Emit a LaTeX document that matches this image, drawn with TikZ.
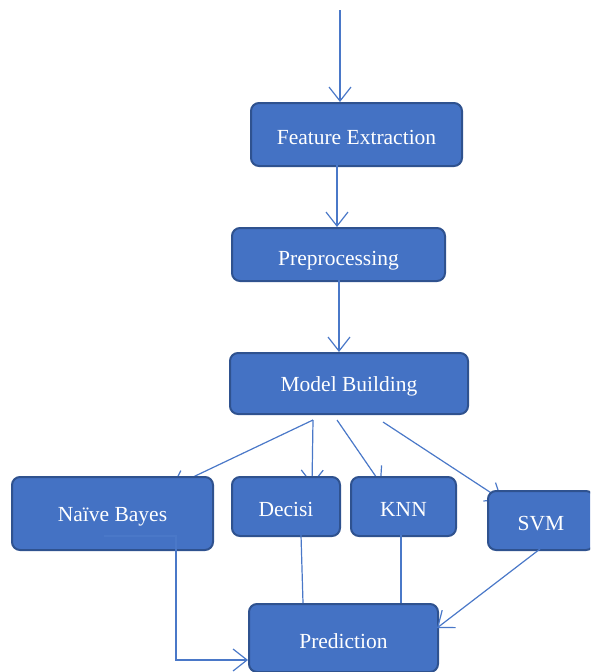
\documentclass[tikz,border=0pt]{standalone}
\usepackage{fontspec}
\setmainfont{Liberation Serif}
\usetikzlibrary{arrows.meta}
\definecolor{boxfill}{HTML}{4472C4}
\definecolor{boxedge}{HTML}{2F528F}
\definecolor{linec}{HTML}{4A78C8}
\tikzset{
  box/.style={draw=boxedge, line width=2pt, fill=boxfill, rounded corners=8pt, text=white,
    font=\fontsize{21.5}{25}\selectfont, inner sep=0pt, anchor=north west},
  conn/.style={draw=linec, line width=1.2pt},
  arr/.style={conn, -{Straight Barb[length=14pt, width=22pt, line width=1.2pt]}},
}
\newcommand{\boxtxt}[2][3pt]{\raisebox{-#1}[\height][\depth]{#2}}
\begin{document}
\begin{tikzpicture}[x=1pt, y=-1pt]
\useasboundingbox (0,0) rectangle (590,672);

% arrows whose heads lie behind the boxes
\coordinate (m1) at (313,420);
\coordinate (m2) at (337,420);
\coordinate (m3) at (383,422);
\coordinate (nbin) at (172,487);
\coordinate (dtin) at (312,485);
\coordinate (knnin) at (381,484);
\coordinate (svmin) at (502,500);
\draw[arr] (m1) -- (nbin);
\draw[arr] (m1) -- (dtin);
\draw[arr] (m2) -- (knnin);
\draw[arr] (m3) -- (svmin);

\begin{scope}
\clip (0,0) rectangle (590,672);
\node[box, minimum width=211pt, minimum height=63pt] (fe) at (250,102) {\boxtxt{Feature Extraction}};
\node[box, minimum width=213pt, minimum height=53pt] (pre) at (231,227) {\boxtxt[6pt]{Preprocessing}};
\node[box, minimum width=238pt, minimum height=61pt] (mb) at (229,352) {\boxtxt{Model Building}};
\node[box, minimum width=201pt, minimum height=73pt] (nb) at (11,476) {\boxtxt{Naïve Bayes}};
\node[box, minimum width=108pt, minimum height=59pt] (dt) at (231,476) {\boxtxt{Decisi}};
\node[box, minimum width=105pt, minimum height=59pt] (knn) at (350,476) {\boxtxt{KNN}};
\node[box, minimum width=106pt, minimum height=59pt] (svm) at (487,490) {\boxtxt{SVM}};
\node[box, minimum width=189pt, minimum height=68pt] (pred) at (248,603) {\boxtxt{Prediction}};
\end{scope}

\coordinate (top) at (340,10);
\draw[arr] (top) -- (top |- fe.north);
\coordinate (fe1) at (337,165);
\draw[arr] (fe1) -- (fe1 |- pre.north);
\coordinate (pre1) at (339,280);
\draw[arr] (pre1) -- (pre1 |- mb.north);

\coordinate (dtout) at (301,535);
\coordinate (knnout) at (401,535);
\coordinate (svmout) at (540,549);
\draw[conn] (dtout) -- (303,603);
\draw[conn] (knnout) -- (knnout |- pred.north);
\draw[arr] (svmout) -- (437,628);

\coordinate (nb1) at (104,536);
\coordinate (nb2) at (176,536);
\coordinate (nb3) at (176,660);
\draw[arr] (nb1) -- (nb2) -- (nb3) -- (nb3 -| pred.west);
\end{tikzpicture}
\end{document}
